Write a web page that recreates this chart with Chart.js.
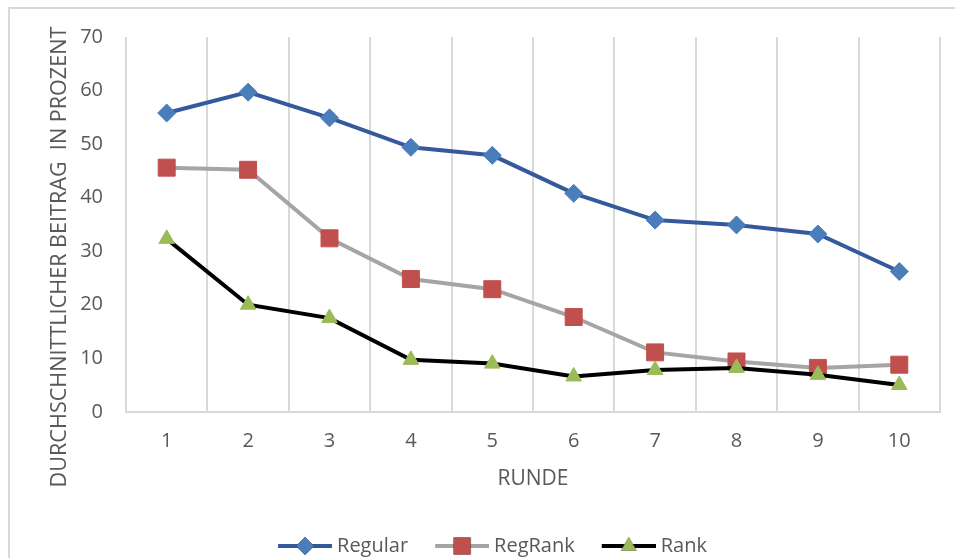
<!DOCTYPE html>
<html>
<head>
<meta charset="utf-8">
<script src="https://cdn.jsdelivr.net/npm/chart.js@4"></script>
<style>
  html, body { margin: 0; padding: 0; background: #fff; }
  #wrap { width: 955px; height: 558px; position: relative; }
</style>
</head>
<body>
<div id="wrap"><canvas id="chart" width="955" height="558"></canvas></div>
<script>
// values
const runden = ['1', '2', '3', '4', '5', '6', '7', '8', '9', '10'];
const regular = [55.8, 59.7, 54.9, 49.4, 47.9, 40.8, 35.8, 34.9, 33.2, 26.2];
const regRank = [45.6, 45.2, 32.4, 24.8, 22.9, 17.7, 11.1, 9.4, 8.2, 8.8];
const rank = [32.3, 20.0, 17.5, 9.7, 9.0, 6.6, 7.8, 8.2, 6.9, 5.0];
const yTicks = [0, 10, 20, 30, 40, 50, 60, 70];

const seriesNames = ['Regular', 'RegRank', 'Rank'];
const lineColors = ['#34599c', '#a5a5a5', '#000000'];
const markerColors = ['#4a7ebb', '#c0504d', '#9bbb59'];
const markerStyles = ['rectRot', 'rect', 'triangle'];
const markerRadius = [9, 12, 9];

const textColor = '#595959';
const fontName = "'Open Sans', 'Noto Sans', sans-serif";

// legend symbol: a piece of line with the marker in the middle.
// the canvas is wider than the legend box so the line sits close to the text
function legendSymbol(i) {
  var start = 22, len = 54;
  var c = document.createElement('canvas');
  c.width = start + len;
  c.height = 22;
  var ctx = c.getContext('2d');
  ctx.strokeStyle = lineColors[i];
  ctx.lineWidth = 4;
  ctx.beginPath();
  ctx.moveTo(start, 11);
  ctx.lineTo(start + len, 11);
  ctx.stroke();
  Chart.helpers.drawPoint(ctx, {
    pointStyle: markerStyles[i],
    radius: markerRadius[i],
    rotation: 0,
    borderWidth: 0
  }, start + len / 2, 11);
  ctx.fillStyle = markerColors[i];
  ctx.fill();
  return c;
}

// outer chart frame (only left and top edges are inside the picture)
const framePlugin = {
  id: 'frame',
  beforeDraw(chart) {
    const ctx = chart.ctx;
    ctx.save();
    ctx.fillStyle = '#ffffff';
    ctx.fillRect(0, 0, chart.width, chart.height);
    ctx.strokeStyle = '#d9d9d9';
    ctx.lineWidth = 2;
    ctx.beginPath();
    ctx.moveTo(9, chart.height);
    ctx.lineTo(9, 8);
    ctx.lineTo(chart.width, 8);
    ctx.stroke();
    ctx.restore();
  }
};

// y axis title, centred on the whole chart height like the original
const yTitlePlugin = {
  id: 'yTitle',
  afterDraw(chart) {
    const ctx = chart.ctx;
    ctx.save();
    ctx.translate(60, 257);
    ctx.rotate(-Math.PI / 2);
    ctx.font = "21.6px " + fontName;
    ctx.fillStyle = textColor;
    ctx.textAlign = 'center';
    ctx.textBaseline = 'middle';
    ctx.fillText('DURCHSCHNITTLICHER BEITRAG  IN PROZENT', 0, 0);
    ctx.restore();
  }
};

// nudge the legend sideways so it sits where the original has it
const legendShift = {
  id: 'legendShift',
  afterLayout(chart) {
    chart.legend.left += 14;
    chart.legend.right += 14;
  }
};

const datasets = [regular, regRank, rank].map(function (values, i) {
  return {
    label: seriesNames[i],
    data: values,
    borderColor: lineColors[i],
    borderWidth: 4,
    backgroundColor: markerColors[i],
    pointStyle: markerStyles[i],
    pointRadius: markerRadius[i],
    pointHoverRadius: markerRadius[i],
    pointBackgroundColor: markerColors[i],
    pointBorderColor: markerColors[i],
    pointBorderWidth: 1,
    tension: 0,
    order: 2 - i
  };
});

new Chart('chart', {
  type: 'line',
  data: { labels: runden, datasets: datasets },
  options: {
    responsive: false,
    animation: false,
    layout: { padding: { top: 37, right: 15, left: 0, bottom: -8 } },
    plugins: {
      tooltip: { enabled: false },
      legend: {
        position: 'bottom',
        labels: {
          usePointStyle: true,
          pointStyleWidth: 66,
          padding: 10,
          color: textColor,
          font: { family: fontName, size: 20 },
          generateLabels: function (chart) {
            return chart.data.datasets.map(function (ds, i) {
              return {
                text: ds.label,
                fillStyle: markerColors[i],
                strokeStyle: lineColors[i],
                lineWidth: 0,
                pointStyle: legendSymbol(i),
                fontColor: textColor,
                hidden: false,
                datasetIndex: i
              };
            });
          }
        }
      }
    },
    scales: {
      x: {
        offset: true,
        grid: { display: true, offset: true, color: '#d9d9d9', lineWidth: 2, drawTicks: false },
        border: { display: true, color: '#d9d9d9', width: 2 },
        ticks: { color: textColor, padding: 17, font: { family: fontName, size: 20 } },
        title: {
          display: true,
          text: 'RUNDE',
          color: textColor,
          font: { family: fontName, size: 21 },
          padding: { top: -3, bottom: 34 }
        }
      },
      y: {
        min: yTicks[0],
        max: yTicks[yTicks.length - 1],
        afterFit: function (scale) { scale.width = 126; },
        afterBuildTicks: function (scale) {
          scale.ticks = yTicks.map(function (v) { return { value: v }; });
        },
        grid: { display: false, drawTicks: false },
        border: { display: false },
        ticks: { color: textColor, padding: 23, font: { family: fontName, size: 20 } }
      }
    }
  },
  plugins: [framePlugin, yTitlePlugin, legendShift]
});
</script>
</body>
</html>
